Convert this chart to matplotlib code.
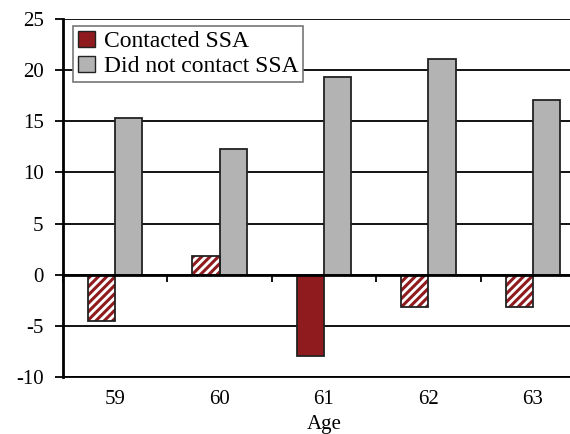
import numpy as np
import matplotlib.pyplot as plt
from matplotlib.patches import Patch

plt.rcParams['font.family'] = ['Liberation Serif', 'DejaVu Serif']
plt.rcParams['hatch.linewidth'] = 2.2
plt.rcParams['axes.unicode_minus'] = False

ages = ["59", "60", "61", "62", "63"]
contacted = [-4.5, 1.8, -7.9, -3.2, -3.2]
not_contacted = [15.3, 12.3, 19.3, 21.1, 17.1]
hatched = [True, True, False, True, True]

red = "#8f1b1e"
gray = "#b3b3b3"
edge = "#222222"

fig = plt.figure(figsize=(5.7, 4.34), dpi=100)
ax = fig.add_axes([63/570, 57/434, 522/570, 358/434])

x = np.arange(len(ages))
w = 0.26

for i in range(len(ages)):
    if hatched[i]:
        ax.bar(x[i] - w/2, contacted[i], w, color="white", edgecolor=red,
               hatch="////", linewidth=0, zorder=3)
        ax.bar(x[i] - w/2, contacted[i], w, facecolor="none", edgecolor=edge,
               linewidth=1.3, zorder=4)
    else:
        ax.bar(x[i] - w/2, contacted[i], w, color=red, edgecolor=edge,
               linewidth=1.3, zorder=3)
ax.bar(x + w/2, not_contacted, w, color=gray, edgecolor=edge, linewidth=1.3, zorder=3)

ax.set_xlim(-0.5, len(ages) - 0.5)
ax.set_ylim(-10, 25)
ax.set_yticks(np.arange(-10, 26, 5))
ax.yaxis.grid(True, color="black", linewidth=1.3)
ax.set_axisbelow(True)
ax.tick_params(axis="y", labelsize=15, length=6, width=1.3, direction="out", pad=8)

for s in ["top", "right"]:
    ax.spines[s].set_visible(False)
ax.spines["left"].set_linewidth(2)
ax.spines["bottom"].set_position(("data", 0))
ax.spines["bottom"].set_linewidth(2)
ax.spines["bottom"].set_zorder(5)
ax.set_xticks(np.arange(len(ages) + 1) - 0.5)
ax.set_xticklabels([])
ax.tick_params(axis="x", length=5, width=1.3, direction="out")

sec = ax.secondary_xaxis("bottom")
sec.set_xticks(x)
sec.set_xticklabels(ages)
sec.tick_params(length=0, labelsize=15, pad=9)
sec.spines["bottom"].set_linewidth(1.3)
sec.set_xlabel("Age", fontsize=15, labelpad=5)

handles = [Patch(facecolor=red, edgecolor=edge), Patch(facecolor=gray, edgecolor=edge)]
leg = ax.legend(handles, ["Contacted SSA", "Did not contact SSA"], loc="upper left",
                bbox_to_anchor=(0.02, 0.98), fontsize=17, fancybox=False,
                framealpha=1, edgecolor="#777777", handlelength=0.7, handleheight=0.7,
                handletextpad=0.4, borderpad=0.2, labelspacing=0.15, borderaxespad=0)
leg.get_frame().set_linewidth(1.2)
leg.set_zorder(6)

fig.savefig("out.png", dpi=100)
